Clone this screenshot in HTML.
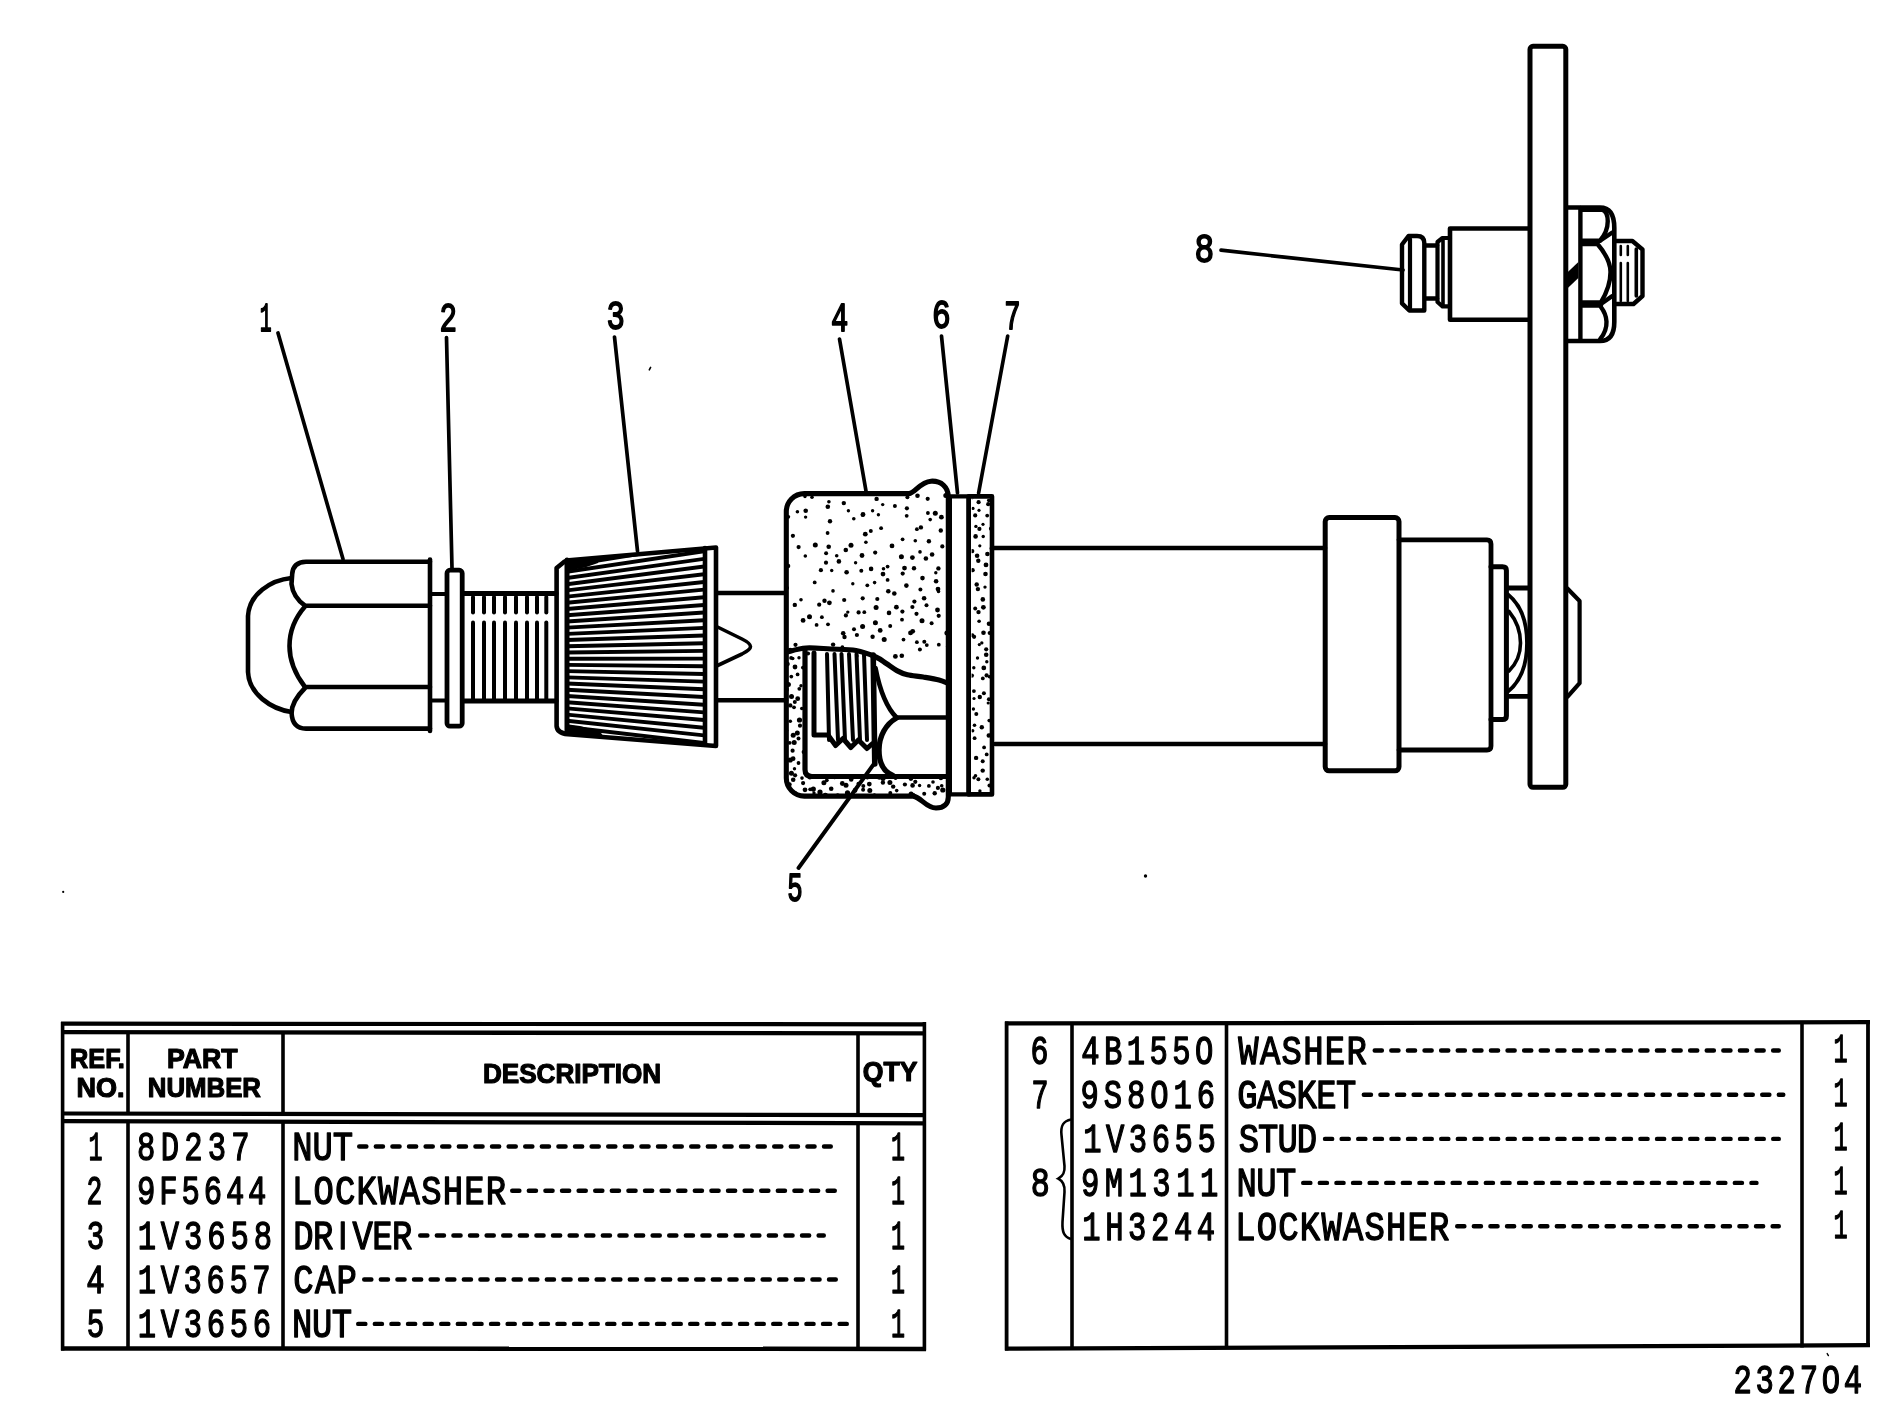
<!DOCTYPE html><html><head><meta charset="utf-8"><title>Parts diagram</title>
<style>html,body{margin:0;padding:0;background:#fff;overflow:hidden;}svg{display:block;}text{fill:#000;}svg{will-change:transform;}</style></head><body>
<svg width="1896" height="1424" viewBox="0 0 1896 1424">
<rect width="1896" height="1424" fill="#fff"/>
<defs>
<clipPath id="capTop"><path d="M786.3,512 A18,18 0 0 1 804.3,493.6 L909,493.6 C915,493 920,482 931,481.2 C941,480.6 948.3,487 948.3,497 L948.3,797 C948.3,804 944,808 936,808 C926,808 921,797 913,796.1 L804.3,796.1 A18,18 0 0 1 786.3,778 Z"/></clipPath>
<clipPath id="capBand" clip-rule="evenodd"><path clip-rule="evenodd" d="M786.3,512 A18,18 0 0 1 804.3,493.6 L909,493.6 C915,493 920,482 931,481.2 C941,480.6 948.3,487 948.3,497 L948.3,797 C948.3,804 944,808 936,808 C926,808 921,797 913,796.1 L804.3,796.1 A18,18 0 0 1 786.3,778 Z M805,649 C790.2,651.3 798.7,648.5 806,648 C813.3,647.5 822.7,648.6 831,649 C839.3,649.4 848.5,649.2 856,650.5 C863.5,651.8 870.8,654.8 875.8,657 C880.8,659.2 882.8,661.2 886.3,663.5 C889.8,665.8 893.4,668.7 896.9,670.6 C900.4,672.5 903,673.7 907.4,674.8 C911.8,675.9 917.9,676.1 923.2,677 C928.5,677.9 934.8,678.9 939,680 C943.2,681.1 946.9,682.9 948.5,683.5 L948.5,776.5 L812,776.5 Q805,776.5 805,770 Z"/></clipPath>
<clipPath id="gask"><rect x="971.6" y="498.8" width="19" height="293.4"/></clipPath>
</defs>
<g fill="#000" stroke="none">
<g clip-path="url(#capTop)"><circle cx="790" cy="494" r="2.2"/><circle cx="805" cy="496.5" r="1.7"/><circle cx="812" cy="497.2" r="1.8"/><circle cx="828.9" cy="501.7" r="1.8"/><circle cx="843.8" cy="503.1" r="2.2"/><circle cx="860.4" cy="492.9" r="2.4"/><circle cx="876.6" cy="498.9" r="2.2"/><circle cx="893.3" cy="493" r="1.7"/><circle cx="907.4" cy="497.2" r="2"/><circle cx="917.5" cy="495.7" r="2.3"/><circle cx="927.7" cy="498.8" r="2.1"/><circle cx="945.8" cy="495.6" r="2.5"/><circle cx="797.4" cy="511.8" r="1.8"/><circle cx="805.7" cy="510.8" r="2.3"/><circle cx="827.8" cy="506.8" r="2.3"/><circle cx="848.4" cy="510.8" r="1.7"/><circle cx="863" cy="514.5" r="2.4"/><circle cx="872.6" cy="510.8" r="1.7"/><circle cx="882.7" cy="504.6" r="1.7"/><circle cx="894.9" cy="506" r="2"/><circle cx="906.9" cy="508.3" r="2.1"/><circle cx="927.9" cy="513" r="1.9"/><circle cx="935.3" cy="513.3" r="2.5"/><circle cx="788.3" cy="516.8" r="1.9"/><circle cx="805.6" cy="517.1" r="1.7"/><circle cx="830" cy="521.2" r="2.2"/><circle cx="853.8" cy="518.7" r="1.8"/><circle cx="862.6" cy="514.9" r="1.9"/><circle cx="878.4" cy="514.7" r="1.7"/><circle cx="906.7" cy="515.8" r="1.9"/><circle cx="930.2" cy="519.6" r="1.8"/><circle cx="941.4" cy="517.2" r="2.4"/><circle cx="792.9" cy="535.8" r="2.1"/><circle cx="827.6" cy="533" r="1.9"/><circle cx="865.3" cy="534.2" r="2.4"/><circle cx="870.8" cy="530.9" r="2"/><circle cx="881.1" cy="528.2" r="1.9"/><circle cx="916.9" cy="529.2" r="1.9"/><circle cx="920.9" cy="527.4" r="2.2"/><circle cx="940.8" cy="530.5" r="2.2"/><circle cx="815.3" cy="545.1" r="2.5"/><circle cx="828.7" cy="546.7" r="2.3"/><circle cx="851" cy="545.3" r="2.5"/><circle cx="865.9" cy="542.2" r="1.8"/><circle cx="892" cy="545.9" r="2.4"/><circle cx="902.6" cy="539.3" r="1.9"/><circle cx="915.3" cy="540.7" r="1.8"/><circle cx="928.9" cy="541.2" r="2.2"/><circle cx="942.3" cy="546.4" r="2.1"/><circle cx="798.6" cy="547.1" r="2.1"/><circle cx="805.3" cy="556" r="1.8"/><circle cx="826.1" cy="553.2" r="2"/><circle cx="836.7" cy="555.8" r="1.8"/><circle cx="845.8" cy="550" r="2.3"/><circle cx="862" cy="555.5" r="2.4"/><circle cx="875.2" cy="552.6" r="2.1"/><circle cx="901.4" cy="556.8" r="2.5"/><circle cx="912.4" cy="557.6" r="2.4"/><circle cx="920" cy="551.9" r="1.8"/><circle cx="932.1" cy="554.5" r="2.3"/><circle cx="788.1" cy="565.9" r="2.2"/><circle cx="826" cy="562.7" r="2.1"/><circle cx="838.9" cy="561.4" r="2.3"/><circle cx="855.6" cy="562.8" r="1.7"/><circle cx="883.5" cy="568.8" r="1.8"/><circle cx="887.6" cy="566.6" r="1.9"/><circle cx="904.5" cy="568.1" r="2.4"/><circle cx="914" cy="568.2" r="2.2"/><circle cx="925.9" cy="558.5" r="2.3"/><circle cx="938.4" cy="568.4" r="2.2"/><circle cx="820.9" cy="570.2" r="2.1"/><circle cx="831.7" cy="570.5" r="1.7"/><circle cx="846.6" cy="572.2" r="2.3"/><circle cx="861.3" cy="570.7" r="2"/><circle cx="871.1" cy="568.9" r="2.3"/><circle cx="883" cy="574.1" r="2.4"/><circle cx="902.7" cy="573.6" r="2.1"/><circle cx="922.5" cy="578.1" r="2.3"/><circle cx="935.8" cy="572.7" r="1.7"/><circle cx="787.1" cy="588" r="1.9"/><circle cx="814.7" cy="582.4" r="1.9"/><circle cx="852.8" cy="583.7" r="1.7"/><circle cx="867.3" cy="585.3" r="1.9"/><circle cx="874.6" cy="582.6" r="1.8"/><circle cx="887.6" cy="579.9" r="1.9"/><circle cx="906.4" cy="585.6" r="2.3"/><circle cx="920.4" cy="589.6" r="2"/><circle cx="936.1" cy="581.3" r="2.3"/><circle cx="938" cy="589.1" r="2.4"/><circle cx="801" cy="599.7" r="1.8"/><circle cx="824.5" cy="600.7" r="2.2"/><circle cx="833" cy="590.9" r="1.8"/><circle cx="844.2" cy="600" r="2.1"/><circle cx="862.7" cy="598.3" r="2.1"/><circle cx="877.3" cy="599" r="2.1"/><circle cx="888.3" cy="591.3" r="2.3"/><circle cx="894.3" cy="593.5" r="2.3"/><circle cx="914.4" cy="601.6" r="2.1"/><circle cx="924.1" cy="598.3" r="2.3"/><circle cx="938.5" cy="591.4" r="1.8"/><circle cx="794.8" cy="604.9" r="2.2"/><circle cx="819.2" cy="604.7" r="2.1"/><circle cx="829.4" cy="602.8" r="2.4"/><circle cx="847.8" cy="612.1" r="1.7"/><circle cx="858.6" cy="612.4" r="2.1"/><circle cx="864.3" cy="612.2" r="1.9"/><circle cx="876.1" cy="607.4" r="2.5"/><circle cx="896.4" cy="607.2" r="2.4"/><circle cx="902.4" cy="611.6" r="2.1"/><circle cx="912.4" cy="607" r="2.1"/><circle cx="926.5" cy="605.3" r="2"/><circle cx="937.5" cy="610" r="2.4"/><circle cx="803.1" cy="620.4" r="2.4"/><circle cx="809.5" cy="616.8" r="2.5"/><circle cx="821.9" cy="617.2" r="1.9"/><circle cx="845.9" cy="615.4" r="2.1"/><circle cx="875.4" cy="622.7" r="2.5"/><circle cx="889" cy="612.9" r="2.3"/><circle cx="902" cy="619.7" r="1.9"/><circle cx="916.5" cy="613.8" r="2.1"/><circle cx="922" cy="620.7" r="2.5"/><circle cx="938.7" cy="615.8" r="2.1"/><circle cx="816.6" cy="624.9" r="1.9"/><circle cx="828" cy="624.3" r="1.9"/><circle cx="843.2" cy="633.3" r="2.3"/><circle cx="854" cy="629.2" r="2"/><circle cx="862.6" cy="626.4" r="2.5"/><circle cx="880.2" cy="630.4" r="2.4"/><circle cx="890.2" cy="626.1" r="2"/><circle cx="910.5" cy="632.9" r="2.4"/><circle cx="912.7" cy="631.3" r="2.4"/><circle cx="931.6" cy="623.3" r="2"/><circle cx="946.9" cy="633" r="2.5"/><circle cx="833.1" cy="644.6" r="2.2"/><circle cx="844.5" cy="637" r="2.2"/><circle cx="856.9" cy="635" r="2.1"/><circle cx="872.6" cy="636.7" r="2.2"/><circle cx="884.2" cy="639.4" r="2.5"/><circle cx="903.5" cy="639.6" r="1.9"/><circle cx="916.9" cy="642.2" r="1.9"/><circle cx="924.3" cy="641.8" r="2"/><circle cx="938.8" cy="644.7" r="1.9"/><circle cx="790.2" cy="649.9" r="2.2"/><circle cx="808" cy="653.5" r="2.1"/><circle cx="822.5" cy="648.6" r="2.4"/><circle cx="842.4" cy="647.2" r="1.9"/><circle cx="856.9" cy="655.9" r="1.8"/><circle cx="864.3" cy="656.1" r="1.8"/><circle cx="895.4" cy="656.4" r="2.4"/><circle cx="901.8" cy="655.7" r="2.3"/><circle cx="919.9" cy="649.4" r="2"/><circle cx="926.8" cy="645.1" r="1.9"/><circle cx="948.4" cy="646.5" r="2.5"/></g>
<g clip-path="url(#capBand)"><g>
<circle cx="787" cy="650.3" r="2.4"/><circle cx="795.5" cy="644.8" r="2.1"/><circle cx="791.1" cy="657.9" r="1.9"/><circle cx="799" cy="657.8" r="1.7"/><circle cx="787.4" cy="664.1" r="2.4"/><circle cx="792.7" cy="658.5" r="1.8"/><circle cx="795" cy="667" r="2.4"/><circle cx="802.9" cy="667.6" r="1.9"/><circle cx="791.3" cy="676.6" r="1.9"/><circle cx="797.6" cy="674.4" r="1.9"/><circle cx="788.4" cy="684.5" r="2.5"/><circle cx="801" cy="685.8" r="1.7"/><circle cx="786.1" cy="689.4" r="2.6"/><circle cx="799.3" cy="688.8" r="1.9"/><circle cx="791.5" cy="696.4" r="2.5"/><circle cx="797.7" cy="698.7" r="2.4"/><circle cx="790.3" cy="705.4" r="2.2"/><circle cx="794.8" cy="702.1" r="2"/><circle cx="794" cy="707.3" r="1.9"/><circle cx="801.8" cy="708.5" r="1.8"/><circle cx="784.6" cy="717.7" r="2"/><circle cx="799.5" cy="720" r="2.6"/><circle cx="790.3" cy="721.2" r="1.8"/><circle cx="800" cy="725.7" r="2.1"/><circle cx="786.1" cy="730.5" r="2.3"/><circle cx="797.3" cy="732.9" r="2.5"/><circle cx="793.2" cy="735.3" r="2.5"/><circle cx="798.5" cy="738.5" r="2"/><circle cx="789.7" cy="742.8" r="1.9"/><circle cx="794.2" cy="742.5" r="2.5"/><circle cx="792.6" cy="750.7" r="2.1"/><circle cx="803.5" cy="752" r="1.9"/><circle cx="790.2" cy="760" r="2.6"/><circle cx="793.1" cy="758.7" r="2.4"/><circle cx="794.5" cy="768.8" r="1.7"/><circle cx="798.5" cy="763" r="1.9"/><circle cx="791.4" cy="773.3" r="2.5"/><circle cx="795.1" cy="775.3" r="2.1"/><circle cx="786.3" cy="781" r="2.6"/><circle cx="793.2" cy="779.7" r="2.3"/><circle cx="802" cy="778.1" r="1.8"/><circle cx="809.9" cy="777.2" r="2.2"/><circle cx="821.1" cy="776.9" r="1.7"/><circle cx="826.8" cy="780.3" r="1.9"/><circle cx="834.6" cy="776.9" r="2.4"/><circle cx="844.3" cy="775.9" r="1.8"/><circle cx="851.2" cy="779.4" r="2.3"/><circle cx="857.1" cy="776.6" r="2.3"/><circle cx="867.4" cy="777.4" r="2"/><circle cx="879.3" cy="777.6" r="2.2"/><circle cx="883" cy="778.4" r="2.5"/><circle cx="895.6" cy="778" r="1.9"/><circle cx="901.6" cy="776.9" r="1.7"/><circle cx="910.9" cy="778.5" r="2.4"/><circle cx="915.3" cy="781.8" r="2.1"/><circle cx="921.6" cy="775.5" r="2.2"/><circle cx="933" cy="782" r="1.8"/><circle cx="940.9" cy="778.1" r="2.2"/><circle cx="789.5" cy="784.4" r="2.2"/><circle cx="803.1" cy="783.1" r="2.1"/><circle cx="810.2" cy="789.3" r="1.9"/><circle cx="813.3" cy="789.1" r="2.6"/><circle cx="823.9" cy="782.7" r="2.5"/><circle cx="831.2" cy="788.8" r="2.3"/><circle cx="842.3" cy="783.5" r="2.4"/><circle cx="846" cy="785.2" r="2.5"/><circle cx="858.4" cy="783.6" r="1.9"/><circle cx="863.3" cy="786.1" r="2"/><circle cx="869.3" cy="784.1" r="2.4"/><circle cx="882.9" cy="782.6" r="2.2"/><circle cx="889.9" cy="782.6" r="2.5"/><circle cx="893.2" cy="786.6" r="2.2"/><circle cx="904.9" cy="784.5" r="2.1"/><circle cx="912.6" cy="785.4" r="2.3"/><circle cx="919.6" cy="785.5" r="1.7"/><circle cx="928.9" cy="785.9" r="1.9"/><circle cx="937.9" cy="787.9" r="2.1"/><circle cx="941.7" cy="785.7" r="1.8"/><circle cx="785.3" cy="792.4" r="1.8"/><circle cx="795.6" cy="792.9" r="1.7"/><circle cx="805" cy="789.8" r="2.4"/><circle cx="814" cy="792.9" r="1.7"/><circle cx="820" cy="792" r="2.6"/><circle cx="825.4" cy="795.4" r="2.6"/><circle cx="837.7" cy="795.1" r="1.9"/><circle cx="847.5" cy="792.8" r="2.6"/><circle cx="855" cy="790.4" r="2.4"/><circle cx="863.1" cy="789.7" r="2"/><circle cx="869.8" cy="790.4" r="2.5"/><circle cx="874.4" cy="795.1" r="1.8"/><circle cx="884" cy="795.9" r="1.9"/><circle cx="890.3" cy="792.9" r="2"/><circle cx="896.7" cy="790.6" r="1.8"/><circle cx="911.1" cy="794.1" r="2.5"/><circle cx="913.6" cy="794.9" r="1.8"/><circle cx="924.2" cy="793.8" r="2"/><circle cx="934.7" cy="793.3" r="2.2"/><circle cx="942.8" cy="790" r="2.6"/></g></g>
<g clip-path="url(#gask)"><circle cx="972.1" cy="497.1" r="2.2"/><circle cx="978.6" cy="502.2" r="2.1"/><circle cx="989" cy="500.3" r="2"/><circle cx="973" cy="508.4" r="1.6"/><circle cx="988.2" cy="504.2" r="2.1"/><circle cx="975.2" cy="515.4" r="2.1"/><circle cx="979" cy="510.3" r="1.6"/><circle cx="987.2" cy="515.6" r="1.9"/><circle cx="975.9" cy="526.4" r="1.7"/><circle cx="983" cy="524.3" r="1.6"/><circle cx="966.7" cy="530" r="1.7"/><circle cx="979.4" cy="528.9" r="2.1"/><circle cx="991" cy="528.7" r="2.1"/><circle cx="975.6" cy="536.4" r="2.3"/><circle cx="983.2" cy="536.5" r="1.7"/><circle cx="972.2" cy="551.1" r="2.2"/><circle cx="979.8" cy="545.8" r="1.6"/><circle cx="991.5" cy="548.4" r="1.9"/><circle cx="977.1" cy="555.7" r="2.3"/><circle cx="987.4" cy="554" r="2.3"/><circle cx="967.1" cy="564.8" r="1.9"/><circle cx="978.3" cy="560.7" r="2.2"/><circle cx="986" cy="564.9" r="2.4"/><circle cx="972.7" cy="570.2" r="2.1"/><circle cx="985.5" cy="574" r="2.3"/><circle cx="968.2" cy="579.5" r="1.8"/><circle cx="976.7" cy="584.5" r="2.2"/><circle cx="992.1" cy="576.9" r="2.3"/><circle cx="977.9" cy="589.1" r="2.2"/><circle cx="985" cy="587.1" r="1.7"/><circle cx="968.7" cy="593.8" r="1.9"/><circle cx="982.8" cy="599.4" r="2.3"/><circle cx="992" cy="595.7" r="2"/><circle cx="975.2" cy="608.6" r="2"/><circle cx="983.4" cy="607.3" r="2.4"/><circle cx="968.6" cy="617.7" r="1.6"/><circle cx="978.5" cy="612.1" r="2.2"/><circle cx="994" cy="616.5" r="1.9"/><circle cx="979.1" cy="621.2" r="1.8"/><circle cx="988.9" cy="623.8" r="2.2"/><circle cx="972.4" cy="635.2" r="2"/><circle cx="983.5" cy="632.7" r="2.3"/><circle cx="989.7" cy="633" r="2.1"/><circle cx="974.1" cy="636.8" r="2.1"/><circle cx="981.8" cy="642.9" r="1.7"/><circle cx="966.9" cy="644.2" r="2.3"/><circle cx="979.3" cy="644.6" r="1.6"/><circle cx="986.2" cy="649.3" r="2.1"/><circle cx="977.5" cy="658" r="1.7"/><circle cx="986.2" cy="654.8" r="2.3"/><circle cx="973.8" cy="667.7" r="1.7"/><circle cx="983.8" cy="667.9" r="2.4"/><circle cx="986.8" cy="661.7" r="1.7"/><circle cx="971.8" cy="675.6" r="2.2"/><circle cx="986.6" cy="675.4" r="2.1"/><circle cx="969.2" cy="677.4" r="1.7"/><circle cx="982.8" cy="678.4" r="1.9"/><circle cx="989.5" cy="676.8" r="1.8"/><circle cx="973.9" cy="691.1" r="1.9"/><circle cx="983.9" cy="693.2" r="2"/><circle cx="974" cy="698.5" r="1.6"/><circle cx="979.8" cy="697" r="2.2"/><circle cx="988.9" cy="699.3" r="2"/><circle cx="973.4" cy="709" r="1.7"/><circle cx="988.2" cy="703" r="1.6"/><circle cx="968.4" cy="716.4" r="2.4"/><circle cx="976.3" cy="714.1" r="2"/><circle cx="992.8" cy="711.4" r="2"/><circle cx="974.5" cy="725.3" r="1.8"/><circle cx="989.2" cy="720.6" r="1.8"/><circle cx="972.7" cy="730.8" r="1.7"/><circle cx="981.8" cy="727.2" r="2.2"/><circle cx="991.9" cy="733.3" r="2.1"/><circle cx="974.6" cy="738.2" r="1.9"/><circle cx="988.8" cy="735.5" r="2.3"/><circle cx="966.9" cy="744.9" r="1.8"/><circle cx="984.1" cy="747.4" r="1.9"/><circle cx="993.5" cy="745.1" r="2"/><circle cx="976.1" cy="757.9" r="2.2"/><circle cx="986.7" cy="754.4" r="1.9"/><circle cx="968" cy="767" r="2.1"/><circle cx="982.7" cy="761.2" r="2"/><circle cx="992.6" cy="764.7" r="1.7"/><circle cx="975.5" cy="775.7" r="1.8"/><circle cx="982.7" cy="770.6" r="2.2"/><circle cx="974" cy="777.7" r="1.7"/><circle cx="978.4" cy="779.2" r="2"/><circle cx="987.3" cy="779.2" r="1.8"/><circle cx="979.9" cy="791" r="1.7"/><circle cx="989.4" cy="785.5" r="1.9"/></g>
</g>
<g stroke="#000" fill="none" stroke-linecap="round" stroke-linejoin="round">
<path d="M430,561.7 L306,561.7 Q293,562 292.2,574 L291.5,584 Q293,597 305,605.7 L430,605.7" stroke-width="4.6" fill="none" />
<path d="M305,606.5 C294,619 289.5,633 289.5,646 C289.5,660 295,674 305,687 L430,687" stroke-width="4.6" fill="none" />
<path d="M305,688 C295,698 291.6,706 291.6,713 C292,722 296,728.6 306,728.6 L430,728.6" stroke-width="4.6" fill="none" />
<path d="M430,559.5 L430,731" stroke-width="4.6" fill="none" />
<path d="M291.5,578 C271,580 249,594 248,616 L248,672 C249,694 271,709 291.5,712" stroke-width="4.6" fill="none" />
<line x1="432" y1="594" x2="446" y2="594" stroke-width="4"/>
<line x1="432" y1="700.5" x2="446" y2="700.5" stroke-width="4"/>
<rect x="447" y="570.2" width="15.2" height="156" rx="3" stroke-width="4.8" fill="none"/>
<line x1="463" y1="593.5" x2="556" y2="593.5" stroke-width="5"/>
<line x1="463" y1="701" x2="556" y2="701" stroke-width="5"/>
<line x1="473" y1="597" x2="473" y2="612.5" stroke-width="4"/>
<line x1="473" y1="622.5" x2="473" y2="699" stroke-width="4"/>
<line x1="484" y1="597" x2="484" y2="612.5" stroke-width="4"/>
<line x1="484" y1="622.5" x2="484" y2="699" stroke-width="4"/>
<line x1="494" y1="597" x2="494" y2="612.5" stroke-width="4"/>
<line x1="494" y1="622.5" x2="494" y2="699" stroke-width="4"/>
<line x1="505" y1="597" x2="505" y2="612.5" stroke-width="4"/>
<line x1="505" y1="622.5" x2="505" y2="699" stroke-width="4"/>
<line x1="516" y1="597" x2="516" y2="612.5" stroke-width="4"/>
<line x1="516" y1="622.5" x2="516" y2="699" stroke-width="4"/>
<line x1="527" y1="597" x2="527" y2="612.5" stroke-width="4"/>
<line x1="527" y1="622.5" x2="527" y2="699" stroke-width="4"/>
<line x1="537" y1="597" x2="537" y2="612.5" stroke-width="4"/>
<line x1="537" y1="622.5" x2="537" y2="699" stroke-width="4"/>
<line x1="546.3" y1="597" x2="546.3" y2="612.5" stroke-width="4"/>
<line x1="546.3" y1="622.5" x2="546.3" y2="699" stroke-width="4"/>
<path d="M556.6,568 L564,562 Q566,560.6 569,560.3 L716,547.5 L716,746 L568,734.3 Q557,733 556.6,726 Z" stroke-width="4.6" fill="none" />
<line x1="567" y1="560" x2="567" y2="733" stroke-width="5"/>
<line x1="705" y1="548" x2="705" y2="744" stroke-width="4.6"/>
<clipPath id="knurl"><path d="M567,560.3 L704,548.4 L704,743.8 L567,734.3 Z"/></clipPath>
<g clip-path="url(#knurl)">
<line x1="566" y1="559.5" x2="706" y2="535.5" stroke-width="3.9"/>
<line x1="566" y1="565.7" x2="706" y2="543.2" stroke-width="3.9"/>
<line x1="566" y1="571.9" x2="706" y2="550.9" stroke-width="3.9"/>
<line x1="566" y1="578.1" x2="706" y2="558.6" stroke-width="3.9"/>
<line x1="566" y1="584.3" x2="706" y2="566.3" stroke-width="3.9"/>
<line x1="566" y1="590.5" x2="706" y2="574" stroke-width="3.9"/>
<line x1="566" y1="596.7" x2="706" y2="581.7" stroke-width="3.9"/>
<line x1="566" y1="602.9" x2="706" y2="589.4" stroke-width="3.9"/>
<line x1="566" y1="609.1" x2="706" y2="597.1" stroke-width="3.9"/>
<line x1="566" y1="615.3" x2="706" y2="604.8" stroke-width="3.9"/>
<line x1="566" y1="621.5" x2="706" y2="612.4" stroke-width="3.9"/>
<line x1="566" y1="627.7" x2="706" y2="620.1" stroke-width="3.9"/>
<line x1="566" y1="633.9" x2="706" y2="627.8" stroke-width="3.9"/>
<line x1="566" y1="640.1" x2="706" y2="635.5" stroke-width="3.9"/>
<line x1="566" y1="646.3" x2="706" y2="643.2" stroke-width="3.9"/>
<line x1="566" y1="652.5" x2="706" y2="650.9" stroke-width="3.9"/>
<line x1="566" y1="658.7" x2="706" y2="658.6" stroke-width="3.9"/>
<line x1="566" y1="664.9" x2="706" y2="666.3" stroke-width="3.9"/>
<line x1="566" y1="671.1" x2="706" y2="674" stroke-width="3.9"/>
<line x1="566" y1="677.3" x2="706" y2="681.7" stroke-width="3.9"/>
<line x1="566" y1="683.5" x2="706" y2="689.4" stroke-width="3.9"/>
<line x1="566" y1="689.7" x2="706" y2="697.1" stroke-width="3.9"/>
<line x1="566" y1="695.9" x2="706" y2="704.8" stroke-width="3.9"/>
<line x1="566" y1="702.1" x2="706" y2="712.5" stroke-width="3.9"/>
<line x1="566" y1="708.3" x2="706" y2="720.2" stroke-width="3.9"/>
<line x1="566" y1="714.5" x2="706" y2="727.9" stroke-width="3.9"/>
<line x1="566" y1="720.7" x2="706" y2="735.6" stroke-width="3.9"/>
<line x1="566" y1="726.9" x2="706" y2="743.2" stroke-width="3.9"/>
<line x1="566" y1="733.1" x2="706" y2="750.9" stroke-width="3.9"/>
<path d="M566,559 L600,556.5 L598,563 L585,567.5 L566,571 Z" fill="#000" stroke="none"/>
<path d="M566,735 L605,738.5 L600,731.5 L580,726 L566,724 Z" fill="#000" stroke="none"/>
</g>
<line x1="718" y1="593" x2="786" y2="593" stroke-width="4.4"/>
<line x1="718" y1="700.3" x2="786" y2="700.3" stroke-width="4.4"/>
<path d="M716.5,626.5 L742,639 C748,642 750.5,644 750.5,646.5 C750.5,649 748,651 742,654 L716.5,666" stroke-width="3.6" fill="none" />
<path d="M786.3,512 A18,18 0 0 1 804.3,493.6 L909,493.6 C915,493 920,482 931,481.2 C941,480.6 948.3,487 948.3,497 L948.3,797 C948.3,804 944,808 936,808 C926,808 921,797 913,796.1 L804.3,796.1 A18,18 0 0 1 786.3,778 Z" stroke-width="5.1" fill="none" />
<path d="M787,652 C790.2,651.3 798.7,648.5 806,648 C813.3,647.5 822.7,648.6 831,649 C839.3,649.4 848.5,649.2 856,650.5 C863.5,651.8 870.8,654.8 875.8,657 C880.8,659.2 882.8,661.2 886.3,663.5 C889.8,665.8 893.4,668.7 896.9,670.6 C900.4,672.5 903,673.7 907.4,674.8 C911.8,675.9 917.9,676.1 923.2,677 C928.5,677.9 934.8,678.9 939,680 C943.2,681.1 946.9,682.9 948.5,683.5" stroke-width="5.2" fill="none" />
<path d="M805,650 L805,769.5 Q805,776.5 812,776.5 L948,776.5" stroke-width="5.2" fill="none" />
<path d="M814,653 L814,735 L828,735 L835.6,745.5 L843,738.5 L850.8,747.5 L858.4,740 L867,748.5 L872,744" stroke-width="5" fill="none" />
<line x1="827" y1="654" x2="829" y2="740" stroke-width="4"/>
<line x1="834.5" y1="654" x2="838" y2="740" stroke-width="4"/>
<line x1="841.5" y1="654" x2="845" y2="740" stroke-width="4"/>
<line x1="849" y1="654" x2="853" y2="740" stroke-width="4"/>
<line x1="856.5" y1="654" x2="860" y2="740" stroke-width="4"/>
<line x1="864" y1="654" x2="867" y2="740" stroke-width="4"/>
<line x1="873.2" y1="655" x2="874.8" y2="764" stroke-width="5.6"/>
<path d="M875.5,668 C879,686 885,706 896.5,717.5 L948,717.5" stroke-width="4.6" fill="none" />
<path d="M896.5,718 C886,724 879,736 879,750 C879,763 884,772 893,775.5" stroke-width="5.4" fill="none" />
<rect x="949.8" y="496.4" width="18.9" height="298" rx="0" stroke-width="4.4" fill="none"/>
<rect x="968.7" y="496.4" width="23.3" height="298" rx="0" stroke-width="4.6" fill="none"/>
<line x1="993" y1="548" x2="1325" y2="548" stroke-width="4.6"/>
<line x1="995" y1="744" x2="1325" y2="744" stroke-width="4.6"/>
<rect x="1325.2" y="517.6" width="73.8" height="253.2" rx="4" stroke-width="5" fill="none"/>
<path d="M1399,539.8 L1487,539.8 Q1491,539.8 1491,544 L1491,746 Q1491,750 1487,750 L1399,750" stroke-width="4.8" fill="none" />
<path d="M1491,566.8 L1502.5,566.8 Q1506.4,566.8 1506.4,570.5 L1506.4,716 Q1506.4,719.5 1502.5,719.5 L1491,719.5" stroke-width="5" fill="none" />
<line x1="1508" y1="588" x2="1529" y2="588" stroke-width="4.8"/>
<line x1="1508" y1="696.4" x2="1529" y2="696.4" stroke-width="4.8"/>
<path d="M1508,594.5 C1521,605 1527,622 1527,643 C1527,664 1521,681 1508,691.5" stroke-width="3.8" fill="none" />
<path d="M1509,611.5 C1516,620 1520.5,632 1520.5,643 C1520.5,654 1516,664 1509,671" stroke-width="3.6" fill="none" />
<rect x="1530" y="46.3" width="35.8" height="741" rx="3" stroke-width="5" fill="none"/>
<path d="M1567.4,588.5 L1579.6,601 L1579.6,683.2 L1567.4,696.9" stroke-width="4.2" fill="none" />
<path d="M1528,228.5 L1450,228.5 L1450,319.8 L1528,319.8" stroke-width="4.6" fill="none" />
<path d="M1450,238 L1442.5,238 L1437.5,242 L1437.5,302 L1442.5,306.3 L1450,306.3" stroke-width="4.2" fill="none" />
<line x1="1443" y1="240" x2="1443" y2="305" stroke-width="3.6"/>
<line x1="1426" y1="245.5" x2="1437" y2="245.5" stroke-width="4.4"/>
<line x1="1426" y1="298.5" x2="1437" y2="298.5" stroke-width="4.4"/>
<path d="M1424.3,243 Q1424.3,236 1417,236 L1408.5,236 L1402,244.5 L1402,303.4 L1409.3,310.5 L1424.3,310.5 Z" stroke-width="4.4" fill="none" />
<line x1="1410" y1="239" x2="1410" y2="308" stroke-width="4.2"/>
<path d="M1567.8,207.5 L1600,207.5 C1610,207.5 1614.3,215 1614.3,228 L1614.3,322 C1614.3,334 1610,341 1600,341 L1567.8,341" stroke-width="4.6" fill="none" />
<line x1="1580.4" y1="208" x2="1580.4" y2="340" stroke-width="4.4"/>
<path d="M1567.8,272 L1578.4,262 L1578.4,278 L1567.8,288 Z" fill="#000" stroke="none"/>
<path d="M1582.4,209.7 L1602,209.7 C1609,212 1611,228 1600,240.8 L1582.4,240.8" stroke-width="4.4" fill="none" />
<line x1="1600" y1="240.8" x2="1612.3" y2="232.5" stroke-width="4.4"/>
<path d="M1582.4,244 L1597.5,244 C1606,254 1610.5,264 1610.5,272 C1610.5,284 1606,294 1600.9,302.4 L1582.4,302.4" stroke-width="4.4" fill="none" />
<line x1="1582.4" y1="305.5" x2="1600.9" y2="305.5" stroke-width="4.4"/>
<line x1="1600.9" y1="304" x2="1612.3" y2="296" stroke-width="4.4"/>
<path d="M1600.9,307 C1607,315 1610,327 1600,339.4" stroke-width="4.4" fill="none" />
<path d="M1616.6,241 L1632.4,241 L1642.5,249.5 L1642.5,296 L1633.5,304 L1616.6,304" stroke-width="4.4" fill="none" />
<line x1="1636.3" y1="249" x2="1636.3" y2="296" stroke-width="3.6"/>
<line x1="1620.8" y1="246" x2="1620.8" y2="255" stroke-width="2.6"/>
<line x1="1620.8" y1="263" x2="1620.8" y2="301" stroke-width="2.6"/>
<line x1="1627.8" y1="246" x2="1627.8" y2="255" stroke-width="2.6"/>
<line x1="1627.8" y1="263" x2="1627.8" y2="301" stroke-width="2.6"/>
<circle cx="63.2" cy="891.9" r="1.1" fill="#000" stroke="none"/>
<circle cx="1145.5" cy="876" r="1.7" fill="#000" stroke="none"/>
<line x1="649.3" y1="369.8" x2="650.6" y2="367.4" stroke-width="1.6"/>
<line x1="1827.2" y1="1353.6" x2="1828.4" y2="1355.6" stroke-width="1.4"/>
<line x1="278" y1="333" x2="343" y2="559" stroke-width="3.7"/>
<line x1="446.5" y1="337.5" x2="452" y2="568" stroke-width="3.7"/>
<line x1="614.5" y1="337" x2="637.5" y2="551" stroke-width="3.7"/>
<line x1="839.5" y1="339" x2="866" y2="491" stroke-width="3.7"/>
<line x1="941.5" y1="336" x2="957.5" y2="493" stroke-width="3.7"/>
<line x1="1007.7" y1="336" x2="978.6" y2="493" stroke-width="3.7"/>
<line x1="873.5" y1="764.5" x2="798.5" y2="868" stroke-width="3.9"/>
<line x1="1221" y1="250.2" x2="1403" y2="270" stroke-width="3.7"/>
</g>
<text transform="scale(0.4808890119233588 1)" x="540.2" y="330.9" font-family="Liberation Mono" font-size="41.2" font-weight="normal" stroke="#000" stroke-width="1.8" stroke-linejoin="round">1</text>
<text transform="scale(0.7086139227432342 1)" x="620.2" y="331.5" font-family="Liberation Mono" font-size="41.2" font-weight="normal" stroke="#000" stroke-width="1.8" stroke-linejoin="round">2</text>
<text transform="scale(0.7423035005449325 1)" x="816.9" y="329.3" font-family="Liberation Mono" font-size="41.2" font-weight="normal" stroke="#000" stroke-width="1.8" stroke-linejoin="round">3</text>
<text transform="scale(0.7003970892785917 1)" x="1186.3" y="330.9" font-family="Liberation Mono" font-size="41.2" font-weight="normal" stroke="#000" stroke-width="1.8" stroke-linejoin="round">4</text>
<text transform="scale(0.7574664817383288 1)" x="1230.5" y="328.3" font-family="Liberation Mono" font-size="41.2" font-weight="normal" stroke="#000" stroke-width="1.8" stroke-linejoin="round">6</text>
<text transform="scale(0.6602368036831379 1)" x="1521" y="328.6" font-family="Liberation Mono" font-size="41.2" font-weight="normal" stroke="#000" stroke-width="1.8" stroke-linejoin="round">7</text>
<text transform="scale(0.6245588073550438 1)" x="1260.6" y="900.9" font-family="Liberation Mono" font-size="41.2" font-weight="normal" stroke="#000" stroke-width="1.8" stroke-linejoin="round">5</text>
<text transform="scale(0.7965812311204976 1)" x="1499.6" y="262.2" font-family="Liberation Mono" font-size="41.2" font-weight="normal" stroke="#000" stroke-width="1.8" stroke-linejoin="round">8</text>
<g stroke="#000" fill="none" stroke-linecap="butt">
<line x1="61" y1="1023.7" x2="926" y2="1024.3" stroke-width="4.2"/>
<line x1="62.5" y1="1032.1" x2="924.5" y2="1033.4" stroke-width="4.3"/>
<line x1="62.5" y1="1113.5" x2="924.5" y2="1115.1" stroke-width="4.2"/>
<line x1="62.5" y1="1121.1" x2="924.5" y2="1123.4" stroke-width="4.3"/>
<line x1="61" y1="1348.4" x2="926" y2="1348.9" stroke-width="4.5"/>
<line x1="62.6" y1="1022" x2="62.6" y2="1350.5" stroke-width="3.6"/>
<line x1="924.4" y1="1022" x2="924.4" y2="1350.5" stroke-width="3.6"/>
<line x1="128" y1="1032.2" x2="128" y2="1113.6" stroke-width="3.6"/>
<line x1="128" y1="1121.3" x2="128" y2="1348.6" stroke-width="3.6"/>
<line x1="283" y1="1032.4" x2="283" y2="1113.9" stroke-width="3.6"/>
<line x1="283" y1="1121.7" x2="283" y2="1348.6" stroke-width="3.6"/>
<line x1="858" y1="1033.3" x2="858" y2="1115" stroke-width="3.6"/>
<line x1="858" y1="1123.2" x2="858" y2="1348.6" stroke-width="3.6"/>
<line x1="1005" y1="1023.4" x2="1870" y2="1022.2" stroke-width="4.2"/>
<line x1="1005" y1="1348.6" x2="1870" y2="1345.2" stroke-width="4.2"/>
<line x1="1006.6" y1="1021.5" x2="1006.6" y2="1350.5" stroke-width="3.8"/>
<line x1="1868" y1="1020.5" x2="1868" y2="1347" stroke-width="3.8"/>
<line x1="1072" y1="1022.8" x2="1072" y2="1347.5" stroke-width="3.6"/>
<line x1="1226.5" y1="1022.8" x2="1226.5" y2="1347.5" stroke-width="3.6"/>
<line x1="1802" y1="1022.8" x2="1802" y2="1347.5" stroke-width="3.6"/>
<line x1="359.2" y1="1146.5" x2="830.8" y2="1146.5" stroke-width="4.4" stroke-dasharray="7.2 9.4" stroke-linecap="round"/>
<line x1="512.2" y1="1190.8" x2="835.8" y2="1190.8" stroke-width="4.4" stroke-dasharray="7.2 9.4" stroke-linecap="round"/>
<line x1="420.2" y1="1235.5" x2="823.8" y2="1235.5" stroke-width="4.4" stroke-dasharray="7.2 9.4" stroke-linecap="round"/>
<line x1="364.2" y1="1279.5" x2="835.8" y2="1279.5" stroke-width="4.4" stroke-dasharray="7.2 9.4" stroke-linecap="round"/>
<line x1="358.2" y1="1323.9" x2="846.8" y2="1323.9" stroke-width="4.4" stroke-dasharray="7.2 9.4" stroke-linecap="round"/>
<line x1="1374.7" y1="1050.5" x2="1778.8" y2="1050.5" stroke-width="4.4" stroke-dasharray="7.2 9.4" stroke-linecap="round"/>
<line x1="1363.8" y1="1094.7" x2="1783.3" y2="1094.7" stroke-width="4.4" stroke-dasharray="7.2 9.4" stroke-linecap="round"/>
<line x1="1325" y1="1138.9" x2="1778.8" y2="1138.9" stroke-width="4.4" stroke-dasharray="7.2 9.4" stroke-linecap="round"/>
<line x1="1303.2" y1="1182.9" x2="1756.5" y2="1182.9" stroke-width="4.4" stroke-dasharray="7.2 9.4" stroke-linecap="round"/>
<line x1="1457.2" y1="1226.2" x2="1778.8" y2="1226.2" stroke-width="4.4" stroke-dasharray="7.2 9.4" stroke-linecap="round"/>
<path d="M1071,1119.5 C1063,1121 1060.5,1126 1061.5,1135 L1064.5,1166 C1065,1173 1063,1176 1058.3,1178.6 C1063,1181 1065,1185 1064.5,1192 L1062.5,1222 C1062,1232 1064,1237 1071,1239" stroke-width="2.6" fill="none" />
</g>
<text x="70.1" y="1067.5" font-family="Liberation Sans" font-size="28.2" font-weight="bold" textLength="54.8" lengthAdjust="spacingAndGlyphs" stroke="#000" stroke-width="1.2" stroke-linejoin="round">REF.</text>
<text x="76.5" y="1097.2" font-family="Liberation Sans" font-size="28.2" font-weight="bold" textLength="48" lengthAdjust="spacingAndGlyphs" stroke="#000" stroke-width="1.2" stroke-linejoin="round">NO.</text>
<text x="166.9" y="1067.5" font-family="Liberation Sans" font-size="28.2" font-weight="bold" textLength="70.7" lengthAdjust="spacingAndGlyphs" stroke="#000" stroke-width="1.2" stroke-linejoin="round">PART</text>
<text x="147.8" y="1097.2" font-family="Liberation Sans" font-size="28.2" font-weight="bold" textLength="113.2" lengthAdjust="spacingAndGlyphs" stroke="#000" stroke-width="1.2" stroke-linejoin="round">NUMBER</text>
<text x="482.9" y="1083" font-family="Liberation Sans" font-size="28.2" font-weight="bold" textLength="178.3" lengthAdjust="spacingAndGlyphs" stroke="#000" stroke-width="1.2" stroke-linejoin="round">DESCRIPTION</text>
<text x="862.8" y="1081.3" font-family="Liberation Sans" font-size="28.2" font-weight="bold" textLength="54.7" lengthAdjust="spacingAndGlyphs" stroke="#000" stroke-width="1.2" stroke-linejoin="round">QTY</text>
<text transform="scale(0.5655700921674891 1)" x="156.5" y="1160.2" font-family="Liberation Mono" font-size="41.3" font-weight="normal" stroke="#000" stroke-width="1.4" stroke-linejoin="round">1</text>
<text transform="scale(0.74 1)" x="185.3 217.1 248.9 280.7 312.5" y="1160.2" font-family="Liberation Mono" font-size="41.3" font-weight="normal" stroke="#000" stroke-width="1.4" stroke-linejoin="round">8D237</text>
<text transform="scale(0.82 1)" x="356.5 381.1 405.8" y="1160.2" font-family="Liberation Mono" font-size="41.3" font-weight="normal" stroke="#000" stroke-width="1.4" stroke-linejoin="round">NUT</text>
<text transform="scale(0.5655700921674905 1)" x="1575.4" y="1160.2" font-family="Liberation Mono" font-size="41.3" font-weight="normal" stroke="#000" stroke-width="1.4" stroke-linejoin="round">1</text>
<text transform="scale(0.6383184792128175 1)" x="135.7" y="1204.3" font-family="Liberation Mono" font-size="41.3" font-weight="normal" stroke="#000" stroke-width="1.4" stroke-linejoin="round">2</text>
<text transform="scale(0.74 1)" x="185.1 215.2 245.2 275.2 305.3 335.3" y="1204.3" font-family="Liberation Mono" font-size="41.3" font-weight="normal" stroke="#000" stroke-width="1.4" stroke-linejoin="round">9F5644</text>
<text transform="scale(0.82 1)" x="356.1 382.3 408.6 434.8 461.1 487.3 513.6 539.9 566.1 592.4" y="1204.3" font-family="Liberation Mono" font-size="41.3" font-weight="normal" stroke="#000" stroke-width="1.4" stroke-linejoin="round">LOCKWASHER</text>
<text transform="scale(0.5655700921674905 1)" x="1575.4" y="1204.3" font-family="Liberation Mono" font-size="41.3" font-weight="normal" stroke="#000" stroke-width="1.4" stroke-linejoin="round">1</text>
<text transform="scale(0.7047575824828004 1)" x="123" y="1249" font-family="Liberation Mono" font-size="41.3" font-weight="normal" stroke="#000" stroke-width="1.4" stroke-linejoin="round">3</text>
<text transform="scale(0.74 1)" x="186.1 217.4 248.8 280.1 311.5 342.8" y="1249" font-family="Liberation Mono" font-size="41.3" font-weight="normal" stroke="#000" stroke-width="1.4" stroke-linejoin="round">1V3658</text>
<text transform="scale(0.82 1)" x="357.6 381.7 412.6 430 454.1 478.2" y="1249" font-family="Liberation Mono" font-size="41.3" font-weight="normal" stroke="#000" stroke-width="1.4" stroke-linejoin="round">DR<tspan font-family="Liberation Sans" font-size="39.6">I</tspan>VER</text>
<text transform="scale(0.5655700921674905 1)" x="1575.4" y="1249" font-family="Liberation Mono" font-size="41.3" font-weight="normal" stroke="#000" stroke-width="1.4" stroke-linejoin="round">1</text>
<text transform="scale(0.7472221300872333 1)" x="115.3" y="1292.8" font-family="Liberation Mono" font-size="41.3" font-weight="normal" stroke="#000" stroke-width="1.4" stroke-linejoin="round">4</text>
<text transform="scale(0.74 1)" x="186.1 217.1 248 279 310 341" y="1292.8" font-family="Liberation Mono" font-size="41.3" font-weight="normal" stroke="#000" stroke-width="1.4" stroke-linejoin="round">1V3657</text>
<text transform="scale(0.82 1)" x="357.5 384 410.5" y="1292.8" font-family="Liberation Mono" font-size="41.3" font-weight="normal" stroke="#000" stroke-width="1.4" stroke-linejoin="round">CAP</text>
<text transform="scale(0.5655700921674905 1)" x="1575.4" y="1292.8" font-family="Liberation Mono" font-size="41.3" font-weight="normal" stroke="#000" stroke-width="1.4" stroke-linejoin="round">1</text>
<text transform="scale(0.7047575824828004 1)" x="123" y="1337.4" font-family="Liberation Mono" font-size="41.3" font-weight="normal" stroke="#000" stroke-width="1.4" stroke-linejoin="round">5</text>
<text transform="scale(0.74 1)" x="186.1 217.2 248.3 279.4 310.5 341.5" y="1337.4" font-family="Liberation Mono" font-size="41.3" font-weight="normal" stroke="#000" stroke-width="1.4" stroke-linejoin="round">1V3656</text>
<text transform="scale(0.82 1)" x="356.1 380.4 404.7" y="1337.4" font-family="Liberation Mono" font-size="41.3" font-weight="normal" stroke="#000" stroke-width="1.4" stroke-linejoin="round">NUT</text>
<text transform="scale(0.5655700921674905 1)" x="1575.4" y="1337.4" font-family="Liberation Mono" font-size="41.3" font-weight="normal" stroke="#000" stroke-width="1.4" stroke-linejoin="round">1</text>
<text transform="scale(0.7241477381913122 1)" x="1422.9" y="1064" font-family="Liberation Mono" font-size="41.3" font-weight="normal" stroke="#000" stroke-width="1.4" stroke-linejoin="round">6</text>
<text transform="scale(0.74 1)" x="1461 1491.8 1522.6 1553.4 1584.2 1615" y="1064" font-family="Liberation Mono" font-size="41.3" font-weight="normal" stroke="#000" stroke-width="1.4" stroke-linejoin="round">4B155O</text>
<text transform="scale(0.82 1)" x="1510.2 1536.6 1562.9 1589.3 1615.6 1642" y="1064" font-family="Liberation Mono" font-size="41.3" font-weight="normal" stroke="#000" stroke-width="1.4" stroke-linejoin="round">WASHER</text>
<text transform="scale(0.5706198251332728 1)" x="3213.3" y="1062" font-family="Liberation Mono" font-size="41.3" font-weight="normal" stroke="#000" stroke-width="1.4" stroke-linejoin="round">1</text>
<text transform="scale(0.68585462055108 1)" x="1504" y="1108.2" font-family="Liberation Mono" font-size="41.3" font-weight="normal" stroke="#000" stroke-width="1.4" stroke-linejoin="round">7</text>
<text transform="scale(0.74 1)" x="1460.3 1491.7 1523.1 1554.5 1585.9 1617.4" y="1108.2" font-family="Liberation Mono" font-size="41.3" font-weight="normal" stroke="#000" stroke-width="1.4" stroke-linejoin="round">9S8O16</text>
<text transform="scale(0.82 1)" x="1508.9 1533 1557 1581.1 1605.2 1629.2" y="1108.2" font-family="Liberation Mono" font-size="41.3" font-weight="normal" stroke="#000" stroke-width="1.4" stroke-linejoin="round">GASKET</text>
<text transform="scale(0.5706198251332728 1)" x="3213.3" y="1105.9" font-family="Liberation Mono" font-size="41.3" font-weight="normal" stroke="#000" stroke-width="1.4" stroke-linejoin="round">1</text>
<text transform="scale(0.74 1)" x="1463.8 1494.6 1525.5 1556.4 1587.2 1618.1" y="1152.4" font-family="Liberation Mono" font-size="41.3" font-weight="normal" stroke="#000" stroke-width="1.4" stroke-linejoin="round">1V3655</text>
<text transform="scale(0.82 1)" x="1510.7 1534.3 1557.8 1581.3" y="1152.4" font-family="Liberation Mono" font-size="41.3" font-weight="normal" stroke="#000" stroke-width="1.4" stroke-linejoin="round">STUD</text>
<text transform="scale(0.5706198251332728 1)" x="3213.3" y="1150.5" font-family="Liberation Mono" font-size="41.3" font-weight="normal" stroke="#000" stroke-width="1.4" stroke-linejoin="round">1</text>
<text transform="scale(0.7688520583633349 1)" x="1340.5" y="1196.4" font-family="Liberation Mono" font-size="41.3" font-weight="normal" stroke="#000" stroke-width="1.4" stroke-linejoin="round">8</text>
<text transform="scale(0.74 1)" x="1460.7 1492.8 1525 1557.2 1589.4 1621.5" y="1196.4" font-family="Liberation Mono" font-size="41.3" font-weight="normal" stroke="#000" stroke-width="1.4" stroke-linejoin="round">9M1311</text>
<text transform="scale(0.82 1)" x="1508 1532.1 1556.2" y="1196.4" font-family="Liberation Mono" font-size="41.3" font-weight="normal" stroke="#000" stroke-width="1.4" stroke-linejoin="round">NUT</text>
<text transform="scale(0.5706198251332728 1)" x="3213.3" y="1194" font-family="Liberation Mono" font-size="41.3" font-weight="normal" stroke="#000" stroke-width="1.4" stroke-linejoin="round">1</text>
<text transform="scale(0.74 1)" x="1462.6 1493.5 1524.5 1555.5 1586.5 1617.4" y="1239.7" font-family="Liberation Mono" font-size="41.3" font-weight="normal" stroke="#000" stroke-width="1.4" stroke-linejoin="round">1H3244</text>
<text transform="scale(0.82 1)" x="1506.4 1532.7 1558.9 1585.2 1611.5 1637.7 1664 1690.2 1716.5 1742.7" y="1239.7" font-family="Liberation Mono" font-size="41.3" font-weight="normal" stroke="#000" stroke-width="1.4" stroke-linejoin="round">LOCKWASHER</text>
<text transform="scale(0.5706198251332728 1)" x="3213.3" y="1237.6" font-family="Liberation Mono" font-size="41.3" font-weight="normal" stroke="#000" stroke-width="1.4" stroke-linejoin="round">1</text>
<text transform="scale(0.74 1)" x="2342.5 2372.3 2402.2 2432 2461.8 2491.6" y="1393.5" font-family="Liberation Mono" font-size="41.3" font-weight="normal" stroke="#000" stroke-width="1.4" stroke-linejoin="round">2327O4</text>
</svg></body></html>
